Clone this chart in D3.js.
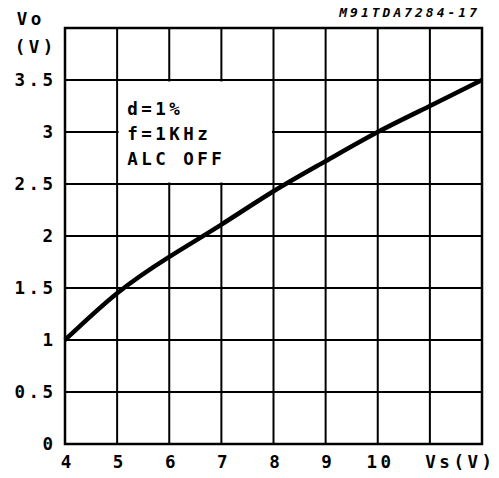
<!DOCTYPE html>
<html>
<head>
<meta charset="utf-8">
<script src="https://cdn.jsdelivr.net/npm/d3@7.9.0/dist/d3.min.js"></script>
<style>
  html, body { margin: 0; padding: 0; background: #fff; }
  svg text { font-family: "DejaVu Sans Mono", monospace; font-weight: bold; fill: #000; }
</style>
</head>
<body>
<div id="chart"></div>
<script>
// supply voltage (V) and output voltage (V)
const vs = [4, 5, 6, 7, 8, 9, 10, 11, 12];
const vo = [1.0, 1.45, 1.8, 2.11, 2.43, 2.72, 3.0, 3.25, 3.5];

const xTicks = [4, 5, 6, 7, 8, 9, 10];
const yTicks = [0, 0.5, 1, 1.5, 2, 2.5, 3, 3.5];
const yTickLabels = ["0", "0.5", "1", "1.5", "2", "2.5", "3", "3.5"];
const noteLines = ["d=1%", "f=1KHz", "ALC OFF"];

const width = 499;
const height = 478;
const margin = { top: 28, right: 17, bottom: 34, left: 65 };
const ls = 3.5; // wide letter spacing like the plotter font

const svg = d3
  .select("#chart")
  .append("svg")
  .attr("width", width)
  .attr("height", height);

const x = d3.scaleLinear().domain([4, 12]).range([margin.left, width - margin.right]);
const y = d3.scaleLinear().domain([0, 4]).range([height - margin.bottom, margin.top]);

// grid
const grid = svg.append("g").attr("stroke", "#000").attr("stroke-width", 2);
grid.selectAll("line.v")
  .data(d3.range(4, 13))
  .join("line")
  .attr("class", "v")
  .attr("x1", (d) => x(d)).attr("x2", (d) => x(d))
  .attr("y1", y(0)).attr("y2", y(4));
grid.selectAll("line.h")
  .data(d3.range(0, 4.01, 0.5))
  .join("line")
  .attr("class", "h")
  .attr("x1", x(4)).attr("x2", x(12))
  .attr("y1", (d) => y(d)).attr("y2", (d) => y(d));

svg.append("rect")
  .attr("x", x(4)).attr("y", y(4))
  .attr("width", x(12) - x(4)).attr("height", y(0) - y(4))
  .attr("fill", "none").attr("stroke", "#000").attr("stroke-width", 2.5);

// white note box covering the grid (5..8 V, 2.5..3.5 V)
svg.append("rect")
  .attr("x", x(5) + 1.5).attr("y", y(3.5) + 1.5)
  .attr("width", x(8) - x(5) - 3).attr("height", y(2.5) - y(3.5) - 3)
  .attr("fill", "#fff");

svg.append("g")
  .selectAll("text")
  .data(noteLines)
  .join("text")
  .attr("x", x(5) + 10)
  .attr("y", (d, i) => y(3.5) + 35 + i * 25)
  .attr("font-size", 17.5)
  .attr("font-weight", "normal")
  .attr("letter-spacing", ls)
  .text((d) => d);

// curve
const line = d3.line()
  .x((d, i) => x(vs[i]))
  .y((d) => y(d))
  .curve(d3.curveNatural);

svg.append("path")
  .datum(vo)
  .attr("d", line)
  .attr("fill", "none")
  .attr("stroke", "#000")
  .attr("stroke-width", 4.5)
  .attr("stroke-linejoin", "round");

// y tick labels
svg.append("g")
  .selectAll("text")
  .data(yTicks)
  .join("text")
  .attr("x", 53 + ls)
  .attr("y", (d) => y(d) + 6)
  .attr("text-anchor", "end")
  .attr("font-size", 17.5)
  .attr("letter-spacing", ls)
  .text((d, i) => yTickLabels[i]);

// x tick labels
svg.append("g")
  .selectAll("text")
  .data(xTicks)
  .join("text")
  .attr("x", (d) => x(d) + ls / 2 + 1)
  .attr("y", 468)
  .attr("text-anchor", "middle")
  .attr("font-size", 17.5)
  .attr("letter-spacing", ls)
  .text((d) => d);

svg.append("text")
  .attr("x", 492 + ls).attr("y", 468)
  .attr("text-anchor", "end")
  .attr("font-size", 17.5)
  .attr("letter-spacing", ls)
  .text("Vs(V)");

// y axis title
svg.append("text").attr("x", 29 + ls / 2).attr("y", 25).attr("text-anchor", "middle")
  .attr("font-size", 17.5).attr("letter-spacing", ls).text("Vo");
svg.append("text").attr("x", 34 + ls / 2).attr("y", 53).attr("text-anchor", "middle")
  .attr("font-size", 17.5).attr("letter-spacing", ls).text("(V)");

// figure code
svg.append("text")
  .attr("x", 477 + 3).attr("y", 17)
  .attr("text-anchor", "end")
  .attr("font-size", 13)
  .attr("font-style", "italic")
  .attr("letter-spacing", 3)
  .text("M91TDA7284-17");
</script>
</body>
</html>
